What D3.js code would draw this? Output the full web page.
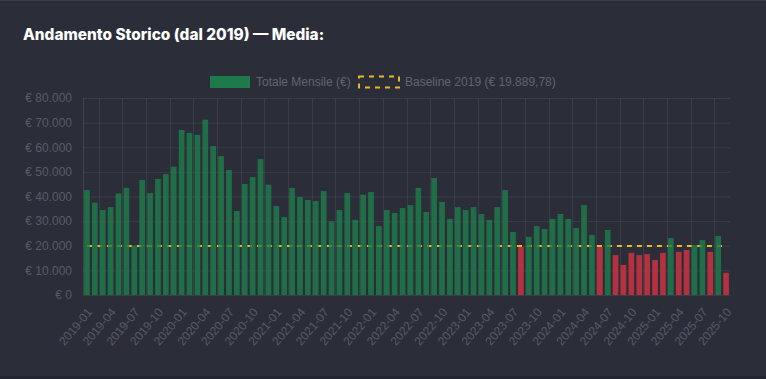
<!DOCTYPE html>
<html><head><meta charset="utf-8">
<script src="https://cdn.jsdelivr.net/npm/d3@7"></script>
<style>
html,body{margin:0;padding:0;background:#23262e;}
svg{display:block;}
</style></head><body>
<svg id="c" width="766" height="379"></svg>
<script>
const months = [];
for (let y = 2019; y <= 2025; y++) for (let m = 1; m <= 12; m++) { if (y === 2025 && m > 10) break; months.push(y + "-" + String(m).padStart(2, "0")); }
const totals = [42600,37500,34500,35700,41200,43500,20100,46700,41400,47100,49100,52100,
67000,65800,65000,71200,60500,56400,50800,34100,45100,47900,55200,44800,
36100,31700,43500,39800,38600,38200,42200,29900,34500,41400,30500,40700,
41800,28000,34500,33300,35300,36500,43500,33700,47500,37800,30900,35700,
34500,35700,32900,30500,35700,42600,25600,19500,23600,28000,26800,30900,
32900,30900,27200,36500,24400,19500,26400,16200,12200,17100,16200,16600,
14200,17100,23100,17500,18300,20300,22300,17500,24000,9000];
const baseline = 19889.78;
const yTicks = [0,10000,20000,30000,40000,50000,60000,70000,80000];
const title = "Andamento Storico (dal 2019) — Media:";
const legendLabels = ["Totale Mensile (€)", "Baseline 2019 (€ 19.889,78)"];

const svg = d3.select("#c");
svg.append("rect").attr("x",0).attr("y",0).attr("width",766).attr("height",376).attr("fill","#2b2e39");
svg.append("rect").attr("x",0).attr("y",0).attr("width",766).attr("height",1).attr("fill","#3a3d48");

const L = 83, R = 730, T = 98, B = 295;
const x = d3.scaleBand().domain(months).range([L, R]).paddingInner(0.28).paddingOuter(0.14);
const xc = d3.scaleBand().domain(months).range([L, R]);
const y = d3.scaleLinear().domain([0, 80000]).range([B, T]);
const fmt = v => "€ " + d3.format(",")(v).replace(/,/g, ".");

svg.append("text").attr("x",23).attr("y",40).text(title)
  .attr("fill","#ffffff").attr("font-family","Inter, 'DejaVu Sans', sans-serif")
  .attr("font-weight",800).attr("font-size",15.4);

// grid
const g = svg.append("g");
g.selectAll("line.h").data(yTicks).join("line")
  .attr("x1", L).attr("x2", R).attr("y1", d => y(d)+0.5).attr("y2", d => y(d)+0.5)
  .attr("stroke", "rgba(255,255,255,0.07)");
const vIdx = months.map((m,i)=>i).filter(i => i >= 2 && (i - 2) % 3 === 0);
g.selectAll("line.v").data(vIdx).join("line")
  .attr("x1", i => Math.round(xc(months[i]))+0.5).attr("x2", i => Math.round(xc(months[i]))+0.5)
  .attr("y1", T).attr("y2", B)
  .attr("stroke", "rgba(255,255,255,0.07)");
g.append("line").attr("x1",L+0.5).attr("x2",L+0.5).attr("y1",T).attr("y2",B).attr("stroke","rgba(255,255,255,0.1)");

// y axis labels
const yAxis = d3.axisLeft(y).tickValues(yTicks).tickFormat(fmt).tickSize(0).tickPadding(11);
const ya = svg.append("g").attr("transform", `translate(${L},0)`).call(yAxis);
ya.select(".domain").remove();
ya.selectAll("text").attr("fill","#575b66").attr("font-family","'Liberation Sans', Arial, sans-serif").attr("font-size",12);

// baseline line (behind bars)
svg.append("line")
  .attr("x1", xc(months[0]) + xc.bandwidth()/2).attr("x2", xc(months[months.length-1]) + xc.bandwidth()/2)
  .attr("y1", y(baseline)).attr("y2", y(baseline))
  .attr("stroke", "#e9b824").attr("stroke-width", 2).attr("stroke-dasharray", "5,5");

// bars
svg.selectAll("rect.bar").data(months).join("rect")
  .attr("x", (d) => x(d)).attr("width", x.bandwidth())
  .attr("y", (d,i) => y(totals[i])).attr("height", (d,i) => B - y(totals[i]))
  .attr("fill", (d,i) => totals[i] >= baseline ? "rgba(30,124,74,0.82)" : "rgba(205,50,66,0.85)");

// x labels
const xLab = months.filter((m,i) => i % 3 === 0);
const xa = svg.append("g").attr("transform", `translate(0,${B})`)
  .call(d3.axisBottom(xc).tickValues(xLab).tickSize(0).tickPadding(0));
xa.select(".domain").remove();
xa.selectAll("text").attr("fill","#575b66").attr("font-family","'Liberation Sans', Arial, sans-serif").attr("font-size",12)
  .attr("text-anchor","end").attr("dy","0.32em")
  .attr("transform","translate(3,15) rotate(-50)");

// legend
const lg = svg.append("g").attr("font-family","'Liberation Sans', Arial, sans-serif").attr("font-size",12);
lg.append("rect").attr("x",210).attr("y",76).attr("width",40).attr("height",12).attr("fill","#1e7a4b");
lg.append("text").attr("x",256).attr("y",86).text(legendLabels[0]).attr("fill","#60646f");
lg.append("rect").attr("x",359).attr("y",76.5).attr("width",40).attr("height",11).attr("fill","none")
  .attr("stroke","#e9b824").attr("stroke-width",2).attr("stroke-dasharray","5,5");
lg.append("text").attr("x",405).attr("y",86).text(legendLabels[1]).attr("fill","#60646f");
</script></body></html>
